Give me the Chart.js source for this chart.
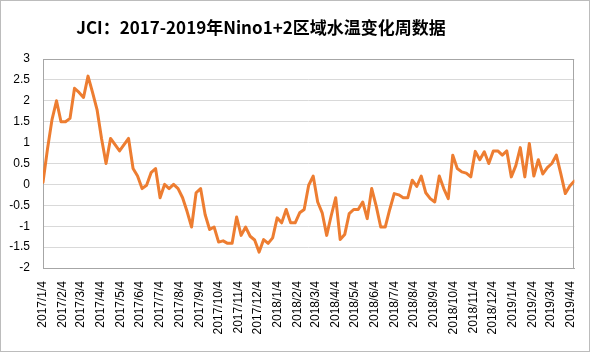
<!DOCTYPE html>
<html><head><meta charset="utf-8">
<script src="https://cdn.jsdelivr.net/npm/chart.js@4"></script>
<style>html,body{margin:0;padding:0;background:#fff}#wrap{width:590px;height:352px}</style>
</head><body><div id="wrap"><canvas id="c" width="590" height="352"></canvas></div>
<script>
const titleText = 'JCI：2017-2019年Nino1+2区域水温变化周数据';

const weekDates = [
'2017/1/4','2017/1/11','2017/1/18','2017/1/25','2017/2/1','2017/2/8','2017/2/15','2017/2/22','2017/3/1','2017/3/8',
'2017/3/15','2017/3/22','2017/3/29','2017/4/5','2017/4/12','2017/4/19','2017/4/26','2017/5/3','2017/5/10','2017/5/17',
'2017/5/24','2017/5/31','2017/6/7','2017/6/14','2017/6/21','2017/6/28','2017/7/5','2017/7/12','2017/7/19','2017/7/26',
'2017/8/2','2017/8/9','2017/8/16','2017/8/23','2017/8/30','2017/9/6','2017/9/13','2017/9/20','2017/9/27','2017/10/4',
'2017/10/11','2017/10/18','2017/10/25','2017/11/1','2017/11/8','2017/11/15','2017/11/22','2017/11/29','2017/12/6','2017/12/13',
'2017/12/20','2017/12/27','2018/1/3','2018/1/10','2018/1/17','2018/1/24','2018/1/31','2018/2/7','2018/2/14','2018/2/21',
'2018/2/28','2018/3/7','2018/3/14','2018/3/21','2018/3/28','2018/4/4','2018/4/11','2018/4/18','2018/4/25','2018/5/2',
'2018/5/9','2018/5/16','2018/5/23','2018/5/30','2018/6/6','2018/6/13','2018/6/20','2018/6/27','2018/7/4','2018/7/11',
'2018/7/18','2018/7/25','2018/8/1','2018/8/8','2018/8/15','2018/8/22','2018/8/29','2018/9/5','2018/9/12','2018/9/19',
'2018/9/26','2018/10/3','2018/10/10','2018/10/17','2018/10/24','2018/10/31','2018/11/7','2018/11/14','2018/11/21','2018/11/28',
'2018/12/5','2018/12/12','2018/12/19','2018/12/26','2019/1/2','2019/1/9','2019/1/16','2019/1/23','2019/1/30','2019/2/6',
'2019/2/13','2019/2/20','2019/2/27','2019/3/6','2019/3/13','2019/3/20','2019/3/27','2019/4/3','2019/4/10'
];

const tempValues = [
0.05,0.85,1.55,2.0,1.5,1.5,1.58,2.3,2.2,2.08,
2.59,2.2,1.79,1.1,0.5,1.1,0.95,0.8,0.95,1.1,
0.38,0.2,-0.1,-0.02,0.28,0.38,-0.32,0,-0.1,0,
-0.1,-0.32,-0.65,-1.02,-0.2,-0.1,-0.72,-1.08,-1.02,-1.38,
-1.35,-1.41,-1.41,-0.78,-1.22,-1.02,-1.24,-1.33,-1.62,-1.32,
-1.41,-1.28,-0.8,-0.92,-0.6,-0.92,-0.92,-0.68,-0.6,-0.02,
0.2,-0.42,-0.68,-1.22,-0.75,-0.32,-1.32,-1.2,-0.7,-0.6,
-0.6,-0.42,-0.82,-0.1,-0.52,-1.02,-1.02,-0.6,-0.22,-0.25,
-0.32,-0.32,0.1,-0.05,0.2,-0.2,-0.34,-0.42,0.2,-0.1,
-0.34,0.7,0.38,0.3,0.27,0.18,0.79,0.59,0.78,0.5,
0.8,0.8,0.7,0.8,0.18,0.45,0.88,0.18,0.98,0.2,
0.59,0.25,0.4,0.5,0.7,0.25,-0.22,-0.04,0.08
];

const tickLabels = [
'2017/1/4','2017/2/4','2017/3/4','2017/4/4','2017/5/4','2017/6/4','2017/7/4','2017/8/4','2017/9/4','2017/10/4','2017/11/4','2017/12/4',
'2018/1/4','2018/2/4','2018/3/4','2018/4/4','2018/5/4','2018/6/4','2018/7/4','2018/8/4','2018/9/4','2018/10/4','2018/11/4','2018/12/4',
'2019/1/4','2019/2/4','2019/3/4','2019/4/4'
];

const yTicks = [-2,-1.5,-1,-0.5,0,0.5,1,1.5,2,2.5,3];

function dayNum(s){const p=s.split('/').map(Number);return Date.UTC(p[0],p[1]-1,p[2])/86400000;}
const base = dayNum(weekDates[0]);
const points = weekDates.map((d,i)=>({x:dayNum(d)-base,y:tempValues[i]}));
const tickDays = tickLabels.map(d=>dayNum(d)-base);
const xMax = dayNum(weekDates[weekDates.length-1])-base;

const decor = {
  id:'decor',
  beforeDraw(chart){
    const c=chart.ctx;
    c.save();c.fillStyle='#fff';c.fillRect(0,0,chart.width,chart.height);c.restore();
  },
  beforeDatasetsDraw(chart){
    const c=chart.ctx,a=chart.chartArea;
    c.save();c.strokeStyle='#a6a6a6';c.lineWidth=1;
    c.strokeRect(Math.round(a.left)+0.5,Math.round(a.top)+0.5,Math.round(a.right-a.left)-1,Math.round(a.bottom-a.top));
    c.restore();
  },
  afterDraw(chart){
    const c=chart.ctx;
    c.save();
    c.strokeStyle='#bcbcbc';c.lineWidth=1;c.strokeRect(0.5,0.5,chart.width-1,chart.height-1);
    c.fillStyle='#000';c.font='bold 17px "Noto Sans CJK SC", "Noto Sans", sans-serif';
    c.textAlign='center';c.textBaseline='middle';
    c.fillText(titleText,261,28);
    c.restore();
  }
};

new Chart(document.getElementById('c'),{
  type:'line',
  data:{datasets:[{data:points,borderColor:'#ED7D31',borderWidth:3,pointRadius:0,tension:0,
    borderJoinStyle:'round',borderCapStyle:'round',fill:false}]},
  options:{
    responsive:false,animation:false,parsing:true,
    layout:{padding:{top:59,right:15,left:0,bottom:0}},
    plugins:{legend:{display:false},title:{display:false},tooltip:{enabled:false}},
    scales:{
      x:{type:'linear',min:0,max:xMax,
        grid:{display:false},border:{display:true,color:'#a6a6a6'},
        afterBuildTicks(s){s.ticks=tickDays.map(v=>({value:v}));},
        afterFit(s){s.height=84;},
        ticks:{autoSkip:false,minRotation:90,maxRotation:90,padding:5,color:'#000',
          font:{family:'"Liberation Sans", Arial, sans-serif',size:12},
          callback:(v,i)=>tickLabels[i]}
      },
      y:{min:-2,max:3,
        afterBuildTicks(s){s.ticks=yTicks.map(v=>({value:v}));},
        afterFit(s){s.width=43;},
        grid:{color:'#d9d9d9',drawTicks:false},border:{display:false},
        ticks:{padding:13,color:'#000',font:{family:'"Liberation Sans", Arial, sans-serif',size:12},
          callback:(v)=>String(v)}
      }
    }
  },
  plugins:[decor]
});
</script></body></html>
